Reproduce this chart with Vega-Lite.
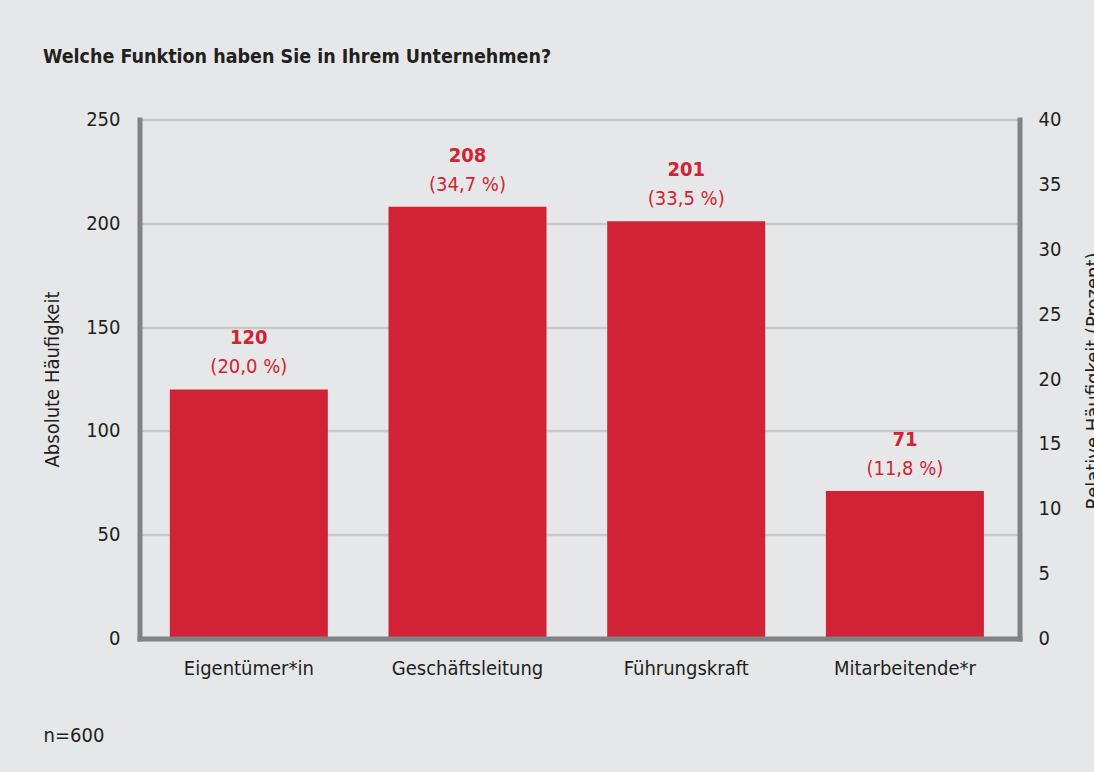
{
  "$schema": "https://vega.github.io/schema/vega-lite/v6.json",
  "width": 880,
  "height": 519,
  "autosize": {"type": "none"},
  "padding": {"left": 139.5, "top": 119.5, "right": 74.5, "bottom": 133.5},
  "background": "#e6e7e8",
  "title": {
    "text": "Welche Funktion haben Sie in Ihrem Unternehmen?",
    "anchor": "start",
    "frame": "group",
    "dx": -96.5,
    "fontSize": 19.5,
    "fontWeight": "bold",
    "font": "DejaVu Sans Condensed",
    "color": "#231f20",
    "baseline": "alphabetic",
    "offset": 27
  },
  "data": {
    "values": [
      {"funktion": "Eigentümer*in", "anzahl": 120, "prozent": 20.0, "prozentLabel": "(20,0 %)"},
      {"funktion": "Geschäftsleitung", "anzahl": 208, "prozent": 34.7, "prozentLabel": "(34,7 %)"},
      {"funktion": "Führungskraft", "anzahl": 201, "prozent": 33.5, "prozentLabel": "(33,5 %)"},
      {"funktion": "Mitarbeitende*r", "anzahl": 71, "prozent": 11.8, "prozentLabel": "(11,8 %)"}
    ]
  },
  "config": {
    "view": {"stroke": null},
    "font": "DejaVu Sans Condensed",
    "axis": {
      "labelFont": "DejaVu Sans Condensed",
      "titleFont": "DejaVu Sans Condensed",
      "labelFontSize": 20,
      "titleFontSize": 20,
      "labelColor": "#231f20",
      "titleColor": "#231f20",
      "titleFontWeight": "normal",
      "ticks": false,
      "domainColor": "#808285",
      "domainWidth": 5,
      "domainCap": "square"
    }
  },
  "encoding": {
    "x": {
      "field": "funktion",
      "type": "nominal",
      "sort": null,
      "scale": {"paddingInner": 0.2775, "paddingOuter": 0.1507, "align": 0.46},
      "axis": {
        "title": "n=600",
        "labelAngle": 0,
        "labelPadding": 20,
        "zindex": 1,
        "titleX": -96.5,
        "titleY": 102.5,
        "titleAlign": "left",
        "titleAnchor": "start",
        "titleBaseline": "alphabetic",
        "grid": false
      }
    }
  },
  "layer": [
    {
      "encoding": {
        "y": {
          "field": "anzahl",
          "type": "quantitative",
          "scale": {"domain": [0, 250]},
          "axis": {
            "title": "Absolute Häufigkeit",
            "values": [0, 50, 100, 150, 200, 250],
            "grid": true,
            "gridColor": "#c8c9cb",
            "gridWidth": 2.5,
            "labelPadding": 19.5,
            "titleAngle": 270,
            "titleX": -81.5,
            "titleY": 259.5,
            "titleAlign": "center",
            "titleBaseline": "alphabetic"
          }
        }
      },
      "layer": [
        {"mark": {"type": "bar", "color": "#d12335"}},
        {
          "mark": {"type": "text", "color": "#d12335", "fontSize": 20, "baseline": "alphabetic", "dy": -16, "font": "DejaVu Sans Condensed"},
          "encoding": {"text": {"field": "prozentLabel"}}
        },
        {
          "mark": {"type": "text", "color": "#d12335", "fontSize": 20, "fontWeight": "bold", "baseline": "alphabetic", "dy": -45, "font": "DejaVu Sans Condensed"},
          "encoding": {"text": {"field": "anzahl", "type": "quantitative"}}
        }
      ]
    },
    {
      "mark": {"type": "tick", "opacity": 0},
      "encoding": {
        "y": {
          "field": "prozent",
          "type": "quantitative",
          "scale": {"domain": [0, 40]},
          "axis": {
            "orient": "right",
            "title": "Relative Häufigkeit (Prozent)",
            "values": [0, 5, 10, 15, 20, 25, 30, 35, 40],
            "grid": false,
            "labelPadding": 18.5,
            "titleAngle": 270,
            "titleX": 80,
            "titleY": 261,
            "titleAlign": "center",
            "titleBaseline": "alphabetic"
          }
        }
      }
    }
  ],
  "resolve": {"scale": {"y": "independent"}}
}
